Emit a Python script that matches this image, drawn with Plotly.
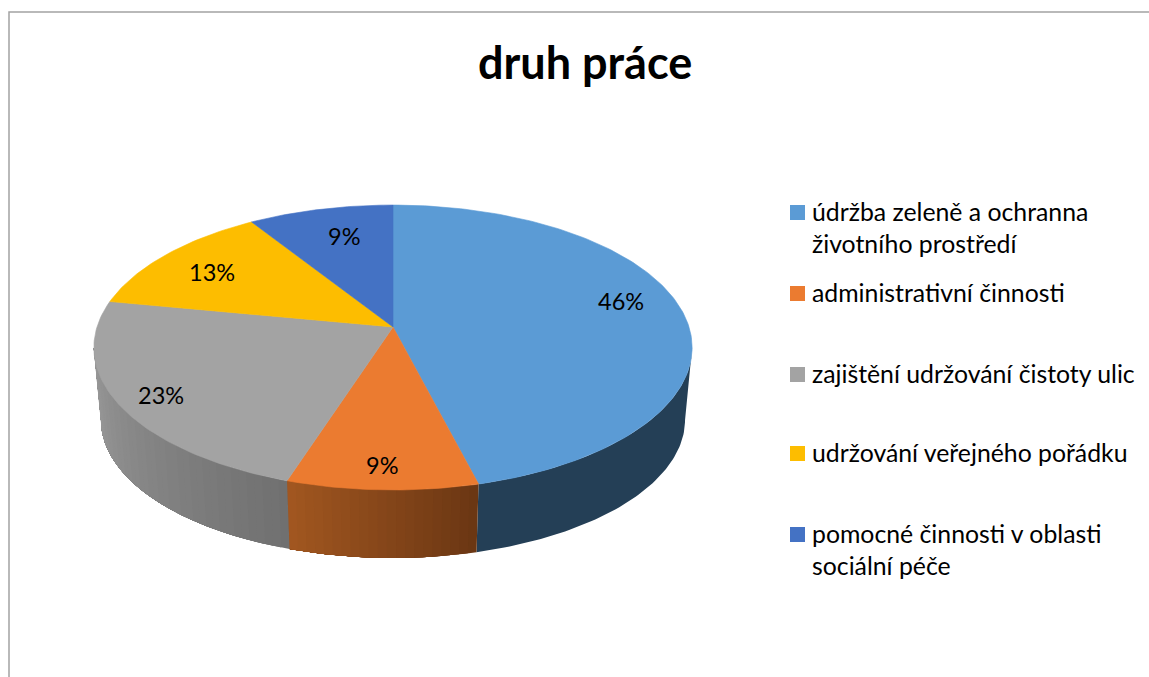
import math
import plotly.graph_objects as go

title = "druh práce"
categories = [
    ["údržba zeleně a ochranna", "životního prostředí"],
    ["administrativní činnosti"],
    ["zajištění udržování čistoty ulic"],
    ["udržování veřejného pořádku"],
    ["pomocné činnosti v oblasti", "sociální péče"],
]
values = [46, 9, 23, 13, 9]
top_colors = ["#5b9bd5", "#eb7b30", "#a3a3a3", "#fdbd00", "#4472c4"]
side_start = [(36, 63, 86), (106, 54, 19), (112, 112, 112)]
side_end = [(36, 63, 86), (162, 87, 32), (154, 154, 154)]

FONT = "Lato, Carlito, sans-serif"
CX = 393.0
K = 0.144
SILHOUETTE = math.acos(-K)


def project(theta, r=1.0, a=296.0, b=139.5, y0=327.0):
    u, v = r * math.sin(theta), r * math.cos(theta)
    d = 1 + K * v
    return CX + a * u / d, y0 - b * v / d


def rim_top(theta):
    return project(theta)


def rim_bottom(theta):
    return project(theta, a=289.0, b=135.2, y0=400.0)


total = sum(values)
edges = [0.0]
for value in values:
    edges.append(edges[-1] + value / total * 2 * math.pi)

fig = go.Figure()


def poly(xs, ys, color, width=0.6):
    fig.add_trace(go.Scatter(
        x=xs, y=ys, mode="lines", fill="toself", fillcolor=color,
        line=dict(color=color, width=width), hoverinfo="skip", showlegend=False,
    ))


# side wall, only the part of the rim that faces the viewer.
# Each band runs to the end of its slice and the next band paints over it,
# so no seams show between the gradient steps.
for i in range(3):
    a0 = max(edges[i], SILHOUETTE)
    a1 = min(edges[i + 1], 2 * math.pi - SILHOUETTE)
    bands = 1 if side_start[i] == side_end[i] else max(1, int(math.degrees(a1 - a0) / 1.5))
    for j in range(bands):
        t0 = a0 + (a1 - a0) * j / bands
        mix = (j + 0.5) / bands
        c = tuple(round(s + (e - s) * mix) for s, e in zip(side_start[i], side_end[i]))
        steps = max(2, int(math.degrees(a1 - t0)))
        ts = [t0 + (a1 - t0) * q / steps for q in range(steps + 1)]
        upper = [rim_top(t) for t in ts]
        lower = [rim_bottom(t) for t in reversed(ts)]
        ring = upper + lower + upper[:1]
        poly([p[0] for p in ring], [p[1] for p in ring], "rgb(%d,%d,%d)" % c, width=0)

# top face
for i in range(len(values)):
    n = max(2, int(math.degrees(edges[i + 1] - edges[i])))
    pts = [project(edges[i] + (edges[i + 1] - edges[i]) * j / n) for j in range(n + 1)]
    cx, cy = project(0.0, r=0.0)
    poly([cx] + [p[0] for p in pts] + [cx], [cy] + [p[1] for p in pts] + [cy], top_colors[i])

# percentage labels placed by slice mid-angle
label_shift = [(-4, -12), (-3, 12), (-15, 8), (3, 4), (10, 5)]
annotations = []
for i, value in enumerate(values):
    mid = (edges[i] + edges[i + 1]) / 2
    x, y = project(mid, r=0.8)
    annotations.append(dict(
        x=x, y=y, xref="x", yref="y", text=f"{value}%", showarrow=False,
        xshift=label_shift[i][0], yshift=-label_shift[i][1],
        font=dict(family=FONT, size=23.5, color="#000000"),
    ))

# legend
legend_y = [[212, 244], [293], [374], [453], [534, 566]]
for i, lines in enumerate(categories):
    fig.add_trace(go.Scatter(
        x=[797.5], y=[legend_y[i][0] + 0.5], mode="markers",
        marker=dict(symbol="square", size=15, color=top_colors[i], line=dict(width=0)),
        name=lines[0], hoverinfo="skip", showlegend=False,
    ))
    for line, y in zip(lines, legend_y[i]):
        annotations.append(dict(
            x=810, y=y - 1, xref="x", yref="y", text=line, showarrow=False,
            xanchor="left", yanchor="middle",
            font=dict(family=FONT, size=24.8, color="#000000"),
        ))

annotations.append(dict(
    x=585, y=62, xref="x", yref="y", text=f"<b>{title}</b>", showarrow=False,
    font=dict(family=FONT, size=45, color="#000000"),
))

# chart frame, cut off at the right and bottom of the page
fig.add_trace(go.Scatter(
    x=[9, 9, 1149], y=[677, 12, 12], mode="lines",
    line=dict(color="#a3a3a3", width=1.5), hoverinfo="skip", showlegend=False,
))

fig.update_layout(
    width=1149, height=677, margin=dict(l=0, r=0, t=0, b=0),
    paper_bgcolor="white", plot_bgcolor="white", showlegend=False,
    xaxis=dict(range=[0, 1149], visible=False, fixedrange=True),
    yaxis=dict(range=[677, 0], visible=False, fixedrange=True),
    annotations=annotations,
)

fig.write_html("out.html", config=dict(displayModeBar=False),
               post_script="document.body.style.margin='0';document.body.style.overflow='hidden';")
